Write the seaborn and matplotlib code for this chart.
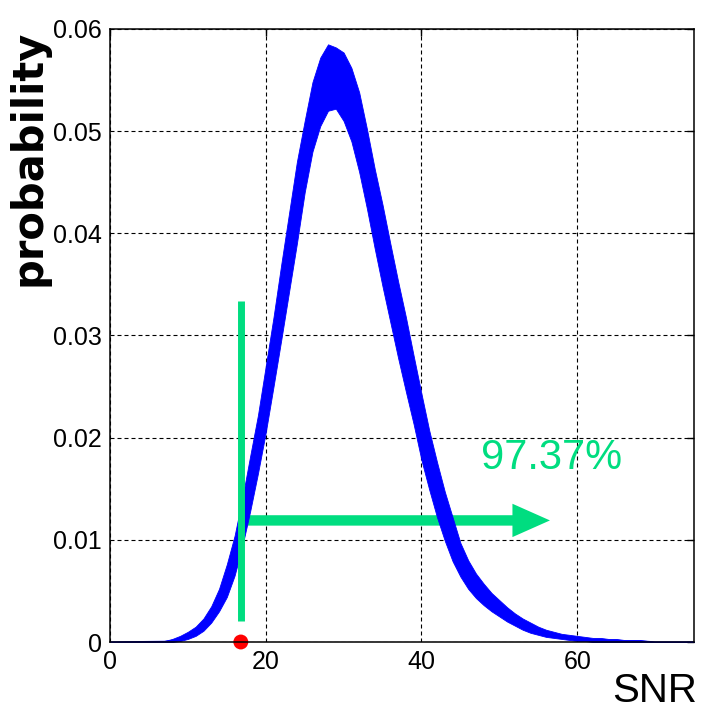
import numpy as np
import pandas as pd
import matplotlib
matplotlib.use("Agg")
import matplotlib.pyplot as plt
import seaborn as sns

# ---- data ----
snr = [0, 7, 8, 9, 10, 11, 12, 13, 14, 15, 16, 17, 18, 19, 20, 21, 22, 23, 24,
       25, 26, 27, 28, 29, 30, 31, 32, 33, 34, 35, 36, 37, 38, 39, 40, 41, 42,
       43, 44, 45, 46, 47, 48, 49, 50, 51, 52, 53, 54, 55, 56, 57, 58, 59, 60,
       61, 62, 63, 64, 65, 66, 67, 68, 69, 70, 75]
prob_low = [0, 0.0000, 0.0000, 0.0001, 0.0003, 0.0006, 0.0011, 0.0019, 0.0030,
            0.0044, 0.0065, 0.0094, 0.0128, 0.0165, 0.0205, 0.0250, 0.0296,
            0.0343, 0.0390, 0.0440, 0.0480, 0.0505, 0.0520, 0.0522, 0.0510,
            0.0490, 0.0460, 0.0424, 0.0385, 0.0348, 0.0313, 0.0278, 0.0245,
            0.0213, 0.0178, 0.0149, 0.0122, 0.0099, 0.0079, 0.0064, 0.0052,
            0.0043, 0.0036, 0.0030, 0.0025, 0.0020, 0.0016, 0.0012, 0.0009,
            0.0007, 0.0005, 0.0004, 0.0003, 0.0002, 0.0001, 0.0001, 0.0000,
            0.0000, 0.0000, 0.0000, 0.0000, 0.0000, 0.0000, 0.0000, 0.0000, 0]
prob_high = [0, 0.0001, 0.0003, 0.0006, 0.0010, 0.0015, 0.0023, 0.0035, 0.0052,
             0.0076, 0.0104, 0.0141, 0.0182, 0.0222, 0.0270, 0.0318, 0.0370,
             0.0420, 0.0470, 0.0510, 0.0548, 0.0572, 0.0585, 0.0582, 0.0577,
             0.0562, 0.0538, 0.0502, 0.0463, 0.0428, 0.0390, 0.0353, 0.0318,
             0.0280, 0.0243, 0.0207, 0.0176, 0.0147, 0.0122, 0.0097, 0.0080,
             0.0067, 0.0057, 0.0048, 0.0041, 0.0034, 0.0028, 0.0023, 0.0019,
             0.0015, 0.0012, 0.0010, 0.0008, 0.0007, 0.0006, 0.0005, 0.0004,
             0.0004, 0.0003, 0.0003, 0.0002, 0.0002, 0.0002, 0.0001, 0.0000, 0]

threshold_snr = 16.8
threshold_bar = [0.0021, 0.0334]      # vertical marker extent (probability)
arrow_y = 0.0119
arrow_x = [17.5, 56.5]
pct_label = "97.37%"
pct_pos = (56.7, 0.0180)

x_ticks = [0, 20, 40, 60]
x_ticklabels = ["0", "20", "40", "60"]
y_ticks = [0, 0.01, 0.02, 0.03, 0.04, 0.05, 0.06]
y_ticklabels = ["0", "0.01", "0.02", "0.03", "0.04", "0.05", "0.06"]

df = pd.DataFrame({"snr": snr, "low": prob_low, "high": prob_high})
df["mid"] = (df["low"] + df["high"]) / 2

# ---- style ----
sns.set_style("white")
narrow = ["Liberation Sans Narrow", "Liberation Sans", "DejaVu Sans"]
plt.rcParams["font.family"] = narrow
for k in ["text.color", "axes.labelcolor", "xtick.color", "ytick.color"]:
    plt.rcParams[k] = "black"

GREEN = "#00DD80"
BLUE = "#0000FF"

fig = plt.figure(figsize=(7.04, 7.16), dpi=100)
ax = fig.add_axes([110 / 704, 1 - 642 / 716, 584 / 704, 613 / 716])

# arrow (below the curve)
ax.annotate("", xy=(arrow_x[1], arrow_y), xytext=(arrow_x[0], arrow_y),
            arrowprops=dict(arrowstyle="simple,head_length=27,head_width=24,tail_width=7.5",
                            mutation_scale=1, color=GREEN, lw=0,
                            shrinkA=0, shrinkB=0),
            zorder=2)

# noisy distribution band
ax.fill_between(df["snr"], df["low"], df["high"], color=BLUE, lw=0.6,
                edgecolor=BLUE, zorder=3)
sns.lineplot(data=df, x="snr", y="mid", ax=ax, color=BLUE, lw=1.0, zorder=3)

# threshold marker
ax.vlines(threshold_snr, threshold_bar[0], threshold_bar[1], colors=GREEN,
          lw=5, zorder=4)
sns.scatterplot(x=[threshold_snr], y=[0], ax=ax, color="#FF0000", s=115,
                edgecolor="none", zorder=6, clip_on=False)

ax.text(pct_pos[0], pct_pos[1], pct_label, color=GREEN, fontsize=30,
        ha="center", va="center", family=narrow, zorder=5)

# axes
ax.set_xlim(0, 75)
ax.set_ylim(0, 0.06)
ax.set_xticks(x_ticks)
ax.set_xticklabels(x_ticklabels)
ax.set_yticks(y_ticks)
ax.set_yticklabels(y_ticklabels)
ax.tick_params(axis="both", labelsize=18, direction="in", length=5, width=1,
               color="black", labelcolor="black", top=True, right=True, pad=6)
ax.grid(True, color="black", lw=0.8, linestyle=(0, (3.6, 2.7)))
for sp in ax.spines.values():
    sp.set_visible(True)
    sp.set_color("black")
    sp.set_linewidth(1.1)
    sp.set_zorder(7)

ax.set_xlabel("SNR", fontsize=29, family=narrow, color="black")
ax.xaxis.set_label_coords((655 - 110) / 584, (642 - 672) / 613)
ax.set_ylabel("probability", fontsize=30, fontweight="bold",
              family=["DejaVu Sans"], color="black")
ax.yaxis.set_label_coords((50 - 110) / 584, (642 - 158) / 613)

fig.savefig("out.png", dpi=100)
